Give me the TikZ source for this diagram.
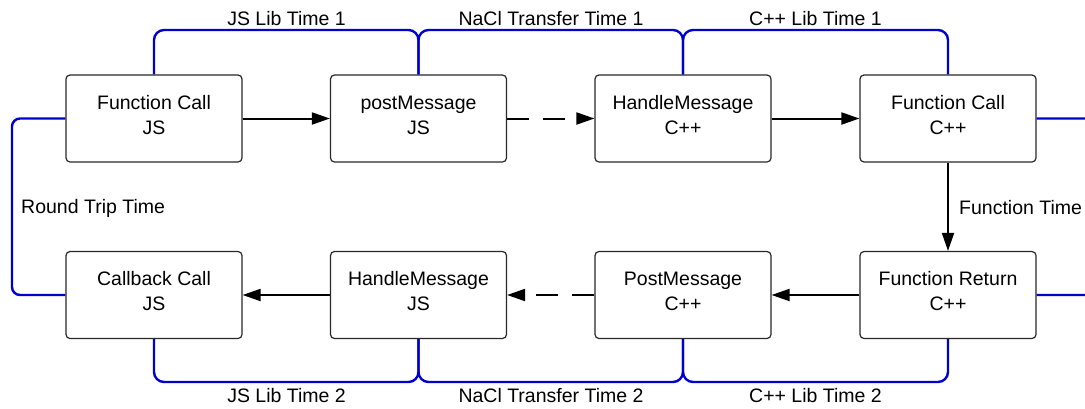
\documentclass[tikz,border=0pt]{standalone}
\usepackage{fontspec}
\setmainfont{Liberation Sans}
\usetikzlibrary{arrows.meta}
\definecolor{spanblue}{RGB}{0,0,205}
\definecolor{boxline}{RGB}{40,40,40}
% struts that fix where the two text lines sit inside a step box
\newcommand\uprule{\rule{0pt}{16pt}}
\newcommand\downrule{\rule[-10pt]{0pt}{10pt}}
\newcommand\steptext[2]{\uprule#1\\#2\downrule}
\begin{document}
\begin{tikzpicture}[x=1pt,y=-1pt,
  stepbox/.style={draw=boxline, line width=1.2pt, rounded corners=4pt,
    minimum width=176pt, minimum height=87pt, align=center, inner sep=0pt,
    font=\fontsize{19.5}{25}\selectfont},
  flow/.style={line width=2pt, -{Triangle[length=18pt,width=12pt]}},
  dashflow/.style={flow, dash pattern=on 22pt off 14pt},
  span/.style={draw=spanblue, line width=2.4pt, rounded corners=10pt},
  lbl/.style={font=\fontsize{19.5}{24}\selectfont, inner sep=0pt}]
\clip (0,0) rectangle (1085,408);
\fill[white] (0,0) rectangle (1085,408);

% reference levels for the span brackets
\coordinate (top) at (0,30);
\coordinate (bot) at (0,382);
\coordinate (leftx) at (12,0);
\coordinate (rightx) at (1093,0);

% outgoing row
\node[stepbox] (fcjs) at (154,118.5) {\steptext{Function Call}{JS}};
\node[stepbox] (pmjs) at (418.5,118.5) {\steptext{postMessage}{JS}};
\node[stepbox] (hmcpp) at (683,118.5) {\steptext{HandleMessage}{C++}};
\node[stepbox] (fccpp) at (948,118.5) {\steptext{Function Call}{C++}};

% return row
\node[stepbox] (cbjs) at (154,295) {\steptext{Callback Call}{JS}};
\node[stepbox] (hmjs) at (418.5,295) {\steptext{HandleMessage}{JS}};
\node[stepbox] (pmcpp) at (683,295) {\steptext{PostMessage}{C++}};
\node[stepbox] (frcpp) at (948,295) {\steptext{Function Return}{C++}};

% message flow
\draw[flow] (fcjs) -- (pmjs);
\draw[dashflow] (pmjs) -- (hmcpp);
\draw[flow] (hmcpp) -- (fccpp);
\draw[flow] (fccpp) -- (frcpp);
\draw[flow] (frcpp) -- (pmcpp);
\draw[dashflow] (pmcpp) -- (hmjs);
\draw[flow] (hmjs) -- (cbjs);

% timing spans, upper
\draw[span] (fcjs.north) -- (fcjs.north |- top) -- (pmjs.north |- top) -- (pmjs.north);
\draw[span] (pmjs.north) -- (pmjs.north |- top) -- (hmcpp.north |- top) -- (hmcpp.north);
\draw[span] (hmcpp.north) -- (hmcpp.north |- top) -- (fccpp.north |- top) -- (fccpp.north);

% timing spans, lower
\draw[span] (cbjs.south) -- (cbjs.south |- bot) -- (hmjs.south |- bot) -- (hmjs.south);
\draw[span] (hmjs.south) -- (hmjs.south |- bot) -- (pmcpp.south |- bot) -- (pmcpp.south);
\draw[span] (pmcpp.south) -- (pmcpp.south |- bot) -- (frcpp.south |- bot) -- (frcpp.south);

% round trip and function spans at the sides
\draw[span, rounded corners=8pt] (fcjs.west) -- (fcjs.west -| leftx) -- (cbjs.west -| leftx) -- (cbjs.west);
\draw[span, rounded corners=8pt] (fccpp.east) -- (fccpp.east -| rightx) -- (frcpp.east -| rightx) -- (frcpp.east);

% span labels
\node[lbl] (ljs1) at (286.5,19) {JS Lib Time 1};
\node[lbl] (lnacl1) at (551,19) {NaCl Transfer Time 1};
\node[lbl] (lcpp1) at (815.5,19) {C++ Lib Time 1};
\node[lbl] (ljs2) at (286.5,396) {JS Lib Time 2};
\node[lbl] (lnacl2) at (551,396) {NaCl Transfer Time 2};
\node[lbl] (lcpp2) at (815.5,396) {C++ Lib Time 2};
\node[lbl, anchor=west] (lrt) at (21,208) {Round Trip Time};
\node[lbl, anchor=west] (lft) at (959,208) {Function Time};
\end{tikzpicture}
\end{document}
